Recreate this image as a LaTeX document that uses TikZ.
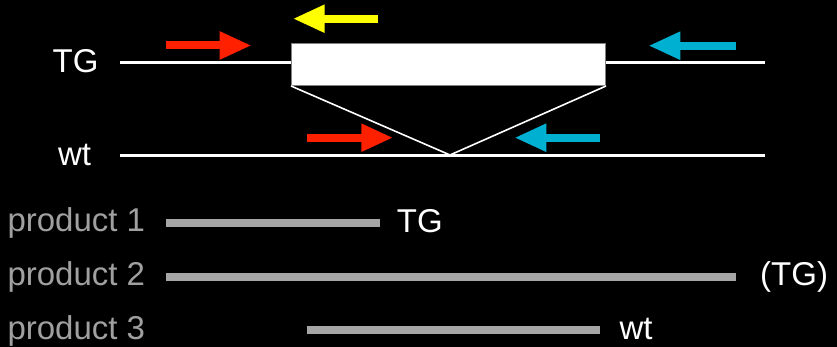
\documentclass[tikz,border=0pt]{standalone}
\usepackage{fontspec}
\setmainfont{Liberation Sans}
\usetikzlibrary{arrows.meta}
\definecolor{pred}{RGB}{255,32,0}
\definecolor{pcyan}{RGB}{0,176,208}
\definecolor{pyellow}{RGB}{255,255,0}
\definecolor{pbar}{RGB}{166,166,166}
\definecolor{ptext}{RGB}{160,160,160}
\begin{document}
\begin{tikzpicture}[x=1pt,y=-1pt,
  dna/.style={draw=white,line width=3pt},
  primer/.style={line width=8pt,-{Triangle[length=32pt,width=26pt]}},
  bar/.style={draw=pbar,line width=8pt},
  wlabel/.style={text=white,font=\fontsize{33}{33}\selectfont,inner sep=0pt},
  glabel/.style={text=ptext,font=\fontsize{33}{33}\selectfont,inner sep=0pt}]
\fill[black] (0,0) rectangle (837,347);
\useasboundingbox (0,0) rectangle (837,347);
% lines
\coordinate (tgL) at (120,62.5);
\coordinate (tgR) at (765,62.5);
\coordinate (wtL) at (120,156);
\coordinate (wtR) at (765,156);
\coordinate (vtx) at (450,155);
\node[draw=gray,line width=1pt,fill=white,minimum width=314pt,minimum height=42pt,inner sep=0pt,anchor=north west] (box) at (291,43) {};
\draw[dna] (tgL) -- (tgL -| box.west);
\draw[dna] (tgR -| box.east) -- (tgR);
\draw[dna] (wtL) -- (wtR);
\draw[white,line width=1.6pt] (box.south west) -- (vtx) -- (box.south east);
% labels
\node[wlabel,anchor=base] (ltg) at (75.5,72.7) {TG};
\node[wlabel,anchor=base] (lwt) at (74.5,165.7) {wt};
% primers
\coordinate (r1a) at (166,45.5); \coordinate (r1b) at (251.7,45.5);
\coordinate (y1a) at (377.7,18.7); \coordinate (y1b) at (292.7,18.7);
\coordinate (r2a) at (306.7,137.7); \coordinate (r2b) at (393.3,137.7);
\coordinate (c1a) at (736,45.7); \coordinate (c1b) at (648.3,45.7);
\coordinate (c2a) at (600,137.7); \coordinate (c2b) at (514.3,137.7);
\draw[primer,draw=pred,fill=pred] (r1a) -- (r1b);
\draw[primer,draw=pyellow,fill=pyellow] (y1a) -- (y1b);
\draw[primer,draw=pred,fill=pred] (r2a) -- (r2b);
\draw[primer,draw=pcyan,fill=pcyan] (c1a) -- (c1b);
\draw[primer,draw=pcyan,fill=pcyan] (c2a) -- (c2b);
% products
\node[glabel,anchor=base west] (p1) at (7.3,231.7) {product 1};
\node[glabel,anchor=base west] (p2) at (7.3,285) {product 2};
\node[glabel,anchor=base west] (p3) at (7.3,339) {product 3};
\coordinate (b1a) at (166,223); \coordinate (b1b) at (380,223);
\coordinate (b2a) at (166,277); \coordinate (b2b) at (736,277);
\coordinate (b3a) at (306.7,330); \coordinate (b3b) at (600,330);
\draw[bar] (b1a) -- (b1b);
\draw[bar] (b2a) -- (b2b);
\draw[bar] (b3a) -- (b3b);
\node[wlabel,anchor=base west] (t1) at (396.7,233) {TG};
\node[wlabel,anchor=base west] (t2) at (760,285.7) {(TG)};
\node[wlabel,anchor=base west] (t3) at (619.3,339) {wt};
\end{tikzpicture}
\end{document}
